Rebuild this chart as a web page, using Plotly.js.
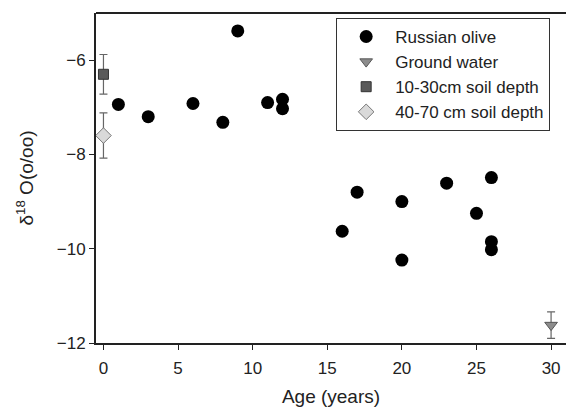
<!DOCTYPE html>
<html><head><meta charset="utf-8">
<script src="https://cdn.plot.ly/plotly-3.0.1.min.js"></script>
<style>html,body{margin:0;padding:0;background:#fff;overflow:hidden}#chart{width:566px;height:408px}</style>
</head><body><div id="chart"></div>
<script>
const oliveAge = [1, 3, 6, 8, 9, 11, 12, 12, 16, 17, 20, 20, 23, 25, 26, 26, 26];
const oliveD18O = [-6.94, -7.2, -6.92, -7.32, -5.38, -6.9, -6.83, -7.03, -9.63, -8.8, -9.0, -10.24, -8.61, -9.25, -8.49, -9.85, -10.02];
const gwAge = [30];
const gwD18O = [-11.62];
const gwErr = [0.28];
const soil1Age = [0];
const soil1D18O = [-6.3];
const soil1Err = [0.42];
const soil2Age = [0];
const soil2D18O = [-7.6];
const soil2Err = [0.48];
const xTicks = [0, 5, 10, 15, 20, 25, 30];
const yTicks = [-12, -10, -8, -6];

const FONT = 'Liberation Sans, Arial, sans-serif';
const errStyle = {type: 'data', visible: true, color: '#666', thickness: 1.2, width: 4};
const traces = [
  {x: oliveAge, y: oliveD18O, type: 'scatter', mode: 'markers', name: 'Russian olive',
   marker: {symbol: 'circle', size: 13, color: '#000'}},
  {x: gwAge, y: gwD18O, type: 'scatter', mode: 'markers', name: 'Ground water',
   error_y: Object.assign({array: gwErr}, errStyle),
   marker: {symbol: 'triangle-down', size: 11, color: '#8c8c8c', line: {color: '#555', width: 1}}},
  {x: soil1Age, y: soil1D18O, type: 'scatter', mode: 'markers', name: '10-30cm soil depth',
   error_y: Object.assign({array: soil1Err}, errStyle),
   marker: {symbol: 'square', size: 10, color: '#5a5a5a', line: {color: '#333', width: 1}}},
  {x: soil2Age, y: soil2D18O, type: 'scatter', mode: 'markers', name: '40-70 cm soil depth',
   error_y: Object.assign({array: soil2Err}, errStyle),
   marker: {symbol: 'diamond', size: 12, color: '#d9d9d9', line: {color: '#777', width: 1}}}
];

const axisCommon = {
  showgrid: false, zeroline: false, showline: true, linecolor: '#222', linewidth: 2,
  mirror: false, ticks: 'outside', ticklen: 5, tickwidth: 1, tickcolor: '#222',
  tickfont: {family: FONT, size: 17, color: '#222'}
};
const layout = {
  width: 566, height: 408,
  margin: {l: 96, r: 0, t: 13, b: 65},
  paper_bgcolor: '#fff', plot_bgcolor: '#fff',
  showlegend: true,
  font: {family: FONT, color: '#222'},
  xaxis: Object.assign({}, axisCommon, {
    range: [-0.5, 31], tickvals: xTicks, ticktext: xTicks.map(String),
    ticklabelstandoff: 4,
    title: {text: 'Age (years)', font: {size: 19, color: '#222'}, standoff: 12}
  }),
  yaxis: Object.assign({}, axisCommon, {
    range: [-12, -5], tickvals: yTicks, ticktext: yTicks.map(v => '\u2212' + Math.abs(v)),
    automargin: true,
    title: {text: '\u03B4<sup>18</sup> O(o/oo)', font: {size: 19, color: '#222'}, standoff: 18}
  }),
  shapes: [{type: 'line', xref: 'paper', yref: 'paper', x0: 0, x1: 1, y0: 1, y1: 1,
            line: {color: '#222', width: 2}}],
  legend: {
    x: 0.511, y: 0.985, xanchor: 'left', yanchor: 'top',
    bgcolor: '#fff', bordercolor: '#333', borderwidth: 1,
    font: {family: FONT, size: 17, color: '#222'},
    itemwidth: 48, tracegroupgap: 0
  }
};
Plotly.newPlot('chart', traces, layout, {displayModeBar: false, staticPlot: true});
</script></body></html>
